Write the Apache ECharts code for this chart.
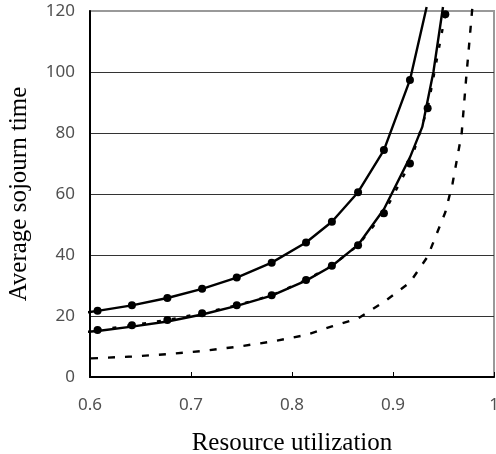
<!DOCTYPE html>
<html>
<head>
<meta charset="utf-8">
<script src="https://cdn.jsdelivr.net/npm/echarts@6/dist/echarts.min.js"></script>
<style>
html,body{margin:0;padding:0;background:#fff;}
#chart{width:496px;height:454px;}
</style>
</head>
<body>
<div id="chart"></div>
<script>
// ---- data ----
var xTicks = [0.6, 0.7, 0.8, 0.9, 1];
var yTicks = [0, 20, 40, 60, 80, 100, 120];

// upper solid curve with circle markers
var topX = [0.597, 0.6075, 0.6415, 0.6766, 0.7110, 0.7453, 0.7799, 0.8139, 0.8395, 0.8654, 0.8910, 0.9168, 0.9333];
var topY = [21.2, 21.7, 23.5, 25.9, 28.9, 32.6, 37.5, 44.1, 50.9, 60.6, 74.4, 97.4, 121.3];
var topMarked = [false, true, true, true, true, true, true, true, true, true, true, true, false];

// middle solid curve (no markers)
var midSolidX = [0.597, 0.6075, 0.6415, 0.6766, 0.7110, 0.7453, 0.7799, 0.8139, 0.8395, 0.8654, 0.8910, 0.9168, 0.9290, 0.9400, 0.9495];
var midSolidY = [14.8, 15.1, 16.5, 18.2, 20.5, 23.3, 26.7, 31.6, 36.4, 43.3, 55.0, 72.0, 82.0, 100.0, 121.3];

// middle dotted curve with circle markers
var midDotX = [0.6075, 0.6415, 0.6766, 0.7110, 0.7453, 0.7799, 0.8139, 0.8395, 0.8654, 0.8910, 0.9168, 0.9343, 0.9518];
var midDotY = [15.4, 17.0, 18.7, 20.9, 23.5, 26.8, 31.8, 36.5, 43.2, 53.7, 70.0, 88.1, 118.9];

// lower dashed curve (no markers)
var lowX = [0.601, 0.6415, 0.6766, 0.7110, 0.7453, 0.7799, 0.8139, 0.8395, 0.8654, 0.8910, 0.9168, 0.9343, 0.9518, 0.9590, 0.9680, 0.9723, 0.9755, 0.9785];
var lowY = [6.1, 6.7, 7.5, 8.5, 9.9, 11.6, 13.8, 16.6, 19.2, 24.6, 31.0, 39.5, 54.0, 63.5, 79.9, 97.4, 109.4, 120.9];

function pairs(xs, ys, marked) {
  return xs.map(function (x, i) {
    var item = { value: [x, ys[i]] };
    if (marked && !marked[i]) item.symbol = 'none';
    return item;
  });
}

var chart = echarts.init(document.getElementById('chart'), null, { renderer: 'canvas' });
var labelFont = { fontFamily: 'Noto Sans', fontSize: 17, color: '#505050' };
var titleFont = { fontFamily: 'Liberation Serif', fontSize: 25, color: '#000' };

chart.setOption({
  animation: false,
  backgroundColor: '#fff',
  grid: {
    left: 90, right: 2, top: 11, bottom: 77,
    containLabel: false, outerBoundsMode: 'none',
    show: true, borderColor: '#999', borderWidth: 2, backgroundColor: 'transparent'
  },
  xAxis: {
    type: 'value',
    min: xTicks[0], max: xTicks[xTicks.length - 1], interval: 0.1,
    name: 'Resource utilization',
    nameLocation: 'middle', nameGap: 54,
    nameTextStyle: titleFont,
    axisLine: { show: true, onZero: false, lineStyle: { color: '#000', width: 2 } },
    axisTick: { show: true, inside: true, length: 5, lineStyle: { color: '#000', width: 1 } },
    axisLabel: Object.assign({ margin: 20, formatter: function (v) { return String(Math.round(v * 10) / 10); } }, labelFont),
    splitLine: { show: false }
  },
  yAxis: {
    type: 'value',
    min: yTicks[0], max: yTicks[yTicks.length - 1], interval: 20,
    name: 'Average sojourn time',
    nameLocation: 'middle', nameGap: 58,
    nameTextStyle: titleFont,
    axisLine: { show: true, onZero: false, lineStyle: { color: '#000', width: 2 } },
    axisTick: { show: false },
    axisLabel: Object.assign({ margin: 15 }, labelFont),
    splitLine: { show: true, showMinLine: false, showMaxLine: false, lineStyle: { color: '#333', width: 1 } }
  },
  series: [
    {
      type: 'line', clip: false, data: pairs(topX, topY, topMarked),
      symbol: 'circle', symbolSize: 8, showAllSymbol: true,
      itemStyle: { color: '#000' },
      lineStyle: { color: '#000', width: 2.4 }
    },
    {
      type: 'line', clip: false, data: pairs(midSolidX, midSolidY),
      symbol: 'none',
      lineStyle: { color: '#000', width: 2.4 }
    },
    {
      type: 'line', clip: false, data: pairs(midDotX, midDotY),
      symbol: 'circle', symbolSize: 8, showAllSymbol: true,
      itemStyle: { color: '#000' },
      lineStyle: { color: '#000', width: 2.4, type: [4, 11] }
    },
    {
      type: 'line', clip: false, data: pairs(lowX, lowY),
      symbol: 'none',
      lineStyle: { color: '#000', width: 2.4, type: [7, 10] }
    }
  ]
});
</script>
</body>
</html>
